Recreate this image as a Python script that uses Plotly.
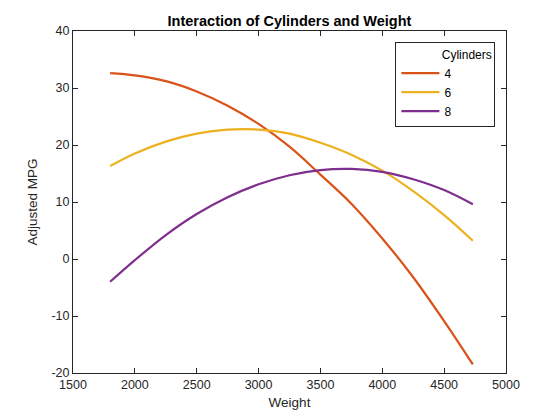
import plotly.graph_objects as go

weight = [1800, 2000, 2250, 2500, 2750, 3000, 3250, 3500, 3750, 4000, 4250, 4500, 4732]
mpg_4 = [32.6, 32.2, 31.2, 29.4, 26.9, 23.7, 19.7, 14.8, 9.7, 3.6, -3.2, -10.9, -18.5]
mpg_6 = [16.3, 18.5, 20.6, 22.0, 22.7, 22.7, 22.0, 20.4, 18.3, 15.5, 11.9, 7.7, 3.2]
mpg_8 = [-4.0, -0.2, 4.2, 7.9, 10.85, 13.1, 14.7, 15.6, 15.8, 15.3, 14.0, 12.1, 9.6]
series_names = ["4", "6", "8"]
colors = ["#D95319", "#EDB120", "#7E2F8E"]

x_ticks = [1500, 2000, 2500, 3000, 3500, 4000, 4500, 5000]
y_ticks = [-20, -10, 0, 10, 20, 30, 40]
y_tick_labels = ["-20", "-10", "0", "10", "20", "30", "40"]

fig = go.Figure()
for name, ys, c in zip(series_names, [mpg_4, mpg_6, mpg_8], colors):
    fig.add_trace(go.Scatter(x=weight, y=ys, mode="lines", name=name,
                             line=dict(color=c, width=2.2, shape="spline", smoothing=1.0)))

axis_common = dict(showgrid=False, zeroline=False, showline=True, linecolor="#262626",
                   linewidth=1, mirror="ticks", ticks="inside", ticklen=5, automargin=False,
                   tickcolor="#262626", tickfont=dict(family="Arial, Liberation Sans", size=12.5, color="#262626"))

fig.update_layout(
    width=560, height=420,
    margin=dict(l=73, r=54, t=31, b=47, autoexpand=False),
    paper_bgcolor="white", plot_bgcolor="white",
    font=dict(family="Arial, Liberation Sans", color="#262626"),
    title=dict(text="<b>Interaction of Cylinders and Weight</b>", x=0.5, xref="paper",
               xanchor="center", yref="container", y=1 - 21/420, yanchor="middle",
               font=dict(size=14.5, color="black"), automargin=False),
    xaxis=dict(range=[1500, 5000], tickvals=x_ticks, ticktext=[str(v) for v in x_ticks],
               title=dict(text="Weight", font=dict(size=13.5), standoff=6), **axis_common),
    yaxis=dict(range=[-20, 40], tickvals=y_ticks, ticktext=y_tick_labels,
               title=dict(text="Adjusted MPG", font=dict(size=13.5), standoff=10), **axis_common),
    legend=dict(x=0.9755, y=0.968, xanchor="right", yanchor="top",
                bordercolor="#262626", borderwidth=1, bgcolor="white",
                font=dict(size=12, color="black"), itemwidth=38,
                title=dict(text="&nbsp;" * 13 + "Cylinders", side="top", font=dict(size=12, color="black")),
                tracegroupgap=0),
    showlegend=True,
)

fig.write_html("out.html", config={"displayModeBar": False},
               post_script="document.body.style.margin='0';document.body.style.padding='0';")
